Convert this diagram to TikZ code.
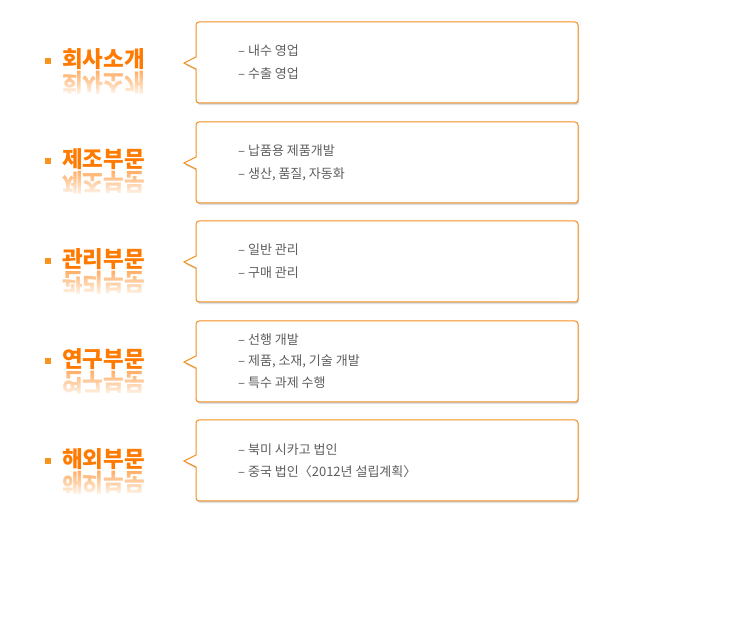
\documentclass[tikz,border=0pt]{standalone}
\usepackage{fontspec}
\newfontfamily\kr{Noto Sans CJK KR}
\usetikzlibrary{fadings}
\definecolor{boxorange}{HTML}{F39020}
\definecolor{titleorange}{HTML}{FF7A00}
\definecolor{bulletorange}{HTML}{F7941D}
\definecolor{bodygray}{HTML}{5E5E5E}
\tikzfading[name=fadedown, top color=transparent!100, bottom color=transparent!0]
\newcommand\bubblepath[1]{(196,#1+35) [rounded corners=3] -- (196,#1) -- (578,#1) -- (578,#1+81) -- (196,#1+81) [sharp corners] -- (196,#1+47) -- (184,#1+41) -- cycle}
\newcommand\mkbubble[1]{%
  \foreach \s in {0.6,1.2,1.8,2.4}{\fill[black, opacity=0.06, shift={(\s*0.6,\s)}] \bubblepath{#1};}
  \draw[bubble] \bubblepath{#1};}
\newcommand\mktitle[3]{% name, baseline y, text
  \node[bulletsq] (#1b) at (48,#2-7) {};
  \node[titletxt] (#1) at (62,#2) {#3};
  \begin{scope}[shift={(62,#2+6)}, yscale=-1.1]
    \node[refltxt, transform shape] (#1r) at (0,0) {#3};
  \end{scope}
  \fill[white, path fading=fadedown] (55,#2+3) rectangle (165,#2+30);}
\begin{document}
\begin{tikzpicture}[x=1pt,y=-1pt,
  bubble/.style={draw=boxorange, line width=1pt, fill=white},
  bulletsq/.style={rectangle, fill=bulletorange, minimum size=6pt, inner sep=0pt},
  titletxt/.style={anchor=base west, inner sep=0pt, text=titleorange,
    font=\kr\bfseries\fontsize{22.5}{26}\selectfont},
  refltxt/.style={anchor=base west, inner sep=0pt, text=titleorange!60,
    font=\kr\bfseries\fontsize{22.5}{26}\selectfont},
  body/.style={anchor=base west, inner sep=0pt, text=bodygray,
    font=\kr\fontsize{13}{15}\selectfont}]
\fill[white] (0,0) rectangle (740,644);
\useasboundingbox (0,0) rectangle (740,644);

\mktitle{t1}{68}{회사소개}
\mktitle{t2}{168}{제조부문}
\mktitle{t3}{268}{관리부문}
\mktitle{t4}{368}{연구부문}
\mktitle{t5}{468}{해외부문}

\mkbubble{22}
\node[body] (l11) at (238,56) {– 내수 영업};
\node[body] (l12) at (238,79) {– 수출 영업};

\mkbubble{122}
\node[body] (l21) at (238,156) {– 납품용 제품개발};
\node[body] (l22) at (238,179) {– 생산, 품질, 자동화};

\mkbubble{221}
\node[body] (l31) at (238,255) {– 일반 관리};
\node[body] (l32) at (238,277.5) {– 구매 관리};

\mkbubble{321}
\node[body] (l41) at (238,345) {– 선행 개발};
\node[body] (l42) at (238,366) {– 제품, 소재, 기술 개발};
\node[body] (l43) at (238,387.5) {– 특수 과제 수행};

\mkbubble{420}
\node[body] (l51) at (238,455) {– 북미 시카고 법인};
\node[body] (l52) at (238,477) {– 중국 법인〈2012년 설립계획〉};
\end{tikzpicture}
\end{document}
